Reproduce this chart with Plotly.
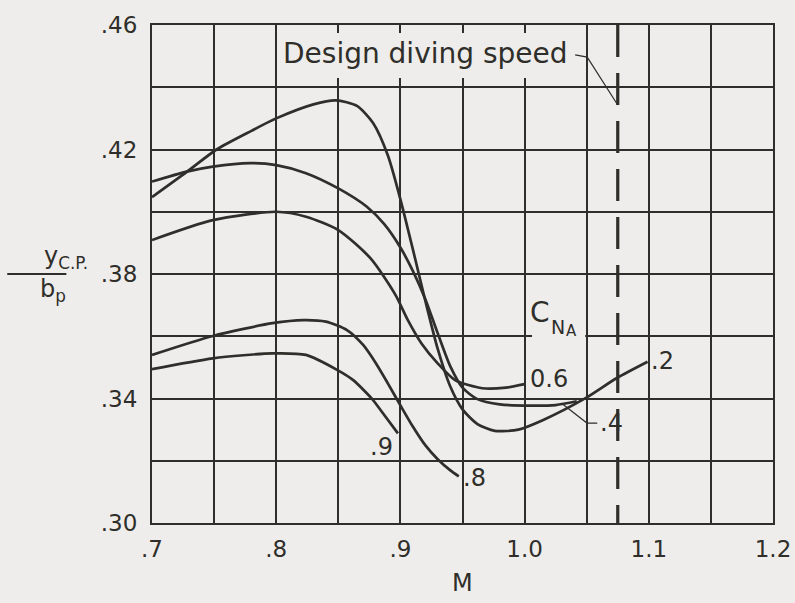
import plotly.graph_objects as go

# Lateral centre-of-pressure position vs Mach number for several C_NA values
M_02 = [0.700, 0.728, 0.752, 0.780, 0.800, 0.830, 0.848, 0.865, 0.878, 0.890, 0.900, 0.910,
        0.920, 0.930, 0.940, 0.950, 0.962, 0.976, 0.995, 1.015, 1.049, 1.074, 1.099]
Y_02 = [0.4047, 0.4128, 0.4200, 0.4260, 0.4300, 0.4345, 0.4358, 0.4340, 0.4285, 0.4180, 0.4040,
        0.3880, 0.3715, 0.3560, 0.3440, 0.3365, 0.3318, 0.3296, 0.3300, 0.3331, 0.3401, 0.3465,
        0.3518]

M_04 = [0.700, 0.728, 0.749, 0.779, 0.800, 0.824, 0.850, 0.873, 0.887, 0.900, 0.910,
        0.920, 0.930, 0.940, 0.950, 0.962, 0.980, 1.005, 1.025, 1.042]
Y_04 = [0.4097, 0.4129, 0.4145, 0.4156, 0.4150, 0.4124, 0.4075, 0.4016, 0.3960, 0.3885, 0.3810,
        0.3720, 0.3610, 0.3505, 0.3435, 0.3398, 0.3381, 0.3377, 0.3379, 0.3391]

M_06 = [0.700, 0.749, 0.800, 0.824, 0.850, 0.876, 0.896, 0.906, 0.917, 0.930, 0.944,
        0.966, 0.985, 1.000]
Y_06 = [0.3909, 0.3973, 0.4000, 0.3984, 0.3941, 0.3850, 0.3733, 0.3652, 0.3577, 0.3513, 0.3459,
        0.3433, 0.3435, 0.3446]

M_08 = [0.700, 0.749, 0.797, 0.822, 0.840, 0.857, 0.870, 0.880, 0.890, 0.900, 0.910, 0.920,
        0.930, 0.940, 0.947]
Y_08 = [0.3540, 0.3601, 0.3642, 0.3652, 0.3647, 0.3620, 0.3572, 0.3515, 0.3448, 0.3378, 0.3310,
        0.3250, 0.3205, 0.3170, 0.3150]

M_09 = [0.700, 0.749, 0.797, 0.824, 0.849, 0.862, 0.878, 0.884, 0.898]
Y_09 = [0.3494, 0.3529, 0.3545, 0.3540, 0.3492, 0.3459, 0.3395, 0.3363, 0.3288]

DIVE_M = 1.075  # design diving speed

X_TICKS = [0.7, 0.8, 0.9, 1.0, 1.1, 1.2]
X_TEXT = [".7", ".8", ".9", "1.0", "1.1", "1.2"]
Y_TICKS = [0.30, 0.34, 0.38, 0.42, 0.46]
Y_TEXT = [".30", ".34", ".38", ".42", ".46"]

INK = "#2f2e2a"
BG = "#eeedeb"
FONT = "DejaVu Sans"

fig = go.Figure()

for xs, ys in [(M_02, Y_02), (M_04, Y_04), (M_06, Y_06), (M_08, Y_08), (M_09, Y_09)]:
    fig.add_trace(go.Scatter(x=xs, y=ys, mode="lines",
                             line=dict(color=INK, width=2.7, shape="spline", smoothing=0.7),
                             hoverinfo="skip", showlegend=False))

fig.add_trace(go.Scatter(x=[DIVE_M, DIVE_M], y=[0.46, 0.30], mode="lines",
                         line=dict(color=INK, width=3.2, dash="32px,16px"),
                         hoverinfo="skip", showlegend=False))

shapes = [
    # clear the grid behind the captions
    dict(type="rect", xref="x", yref="y", x0=0.8012, x1=1.0448, y0=0.4430, y1=0.4574,
         layer="between", fillcolor=BG, line=dict(width=0)),
    dict(type="rect", xref="x", yref="y", x0=1.006, x1=1.0488, y0=0.3590, y1=0.3690,
         layer="between", fillcolor=BG, line=dict(width=0)),
    # leader lines
    dict(type="path", xref="x", yref="y",
         path=f"M 1.0407 0.4504 L 1.0504 0.4497 L {DIVE_M} 0.4343",
         line=dict(color=INK, width=1.2)),
    dict(type="path", xref="x", yref="y",
         path="M 1.030 0.3384 L 1.0502 0.3321 L 1.0585 0.3321",
         line=dict(color=INK, width=1.2)),
    # fraction bar of the y-axis label
    dict(type="line", xref="paper", yref="paper", x0=-0.2331, x1=-0.1379, y0=0.5, y1=0.5,
         line=dict(color=INK, width=1.8)),
]

def label(text, x, y, size=24, **kw):
    return dict(text=text, x=x, y=y, xref="x", yref="y", showarrow=False,
                font=dict(family=FONT, size=size, color=INK), **kw)

annotations = [
    label("Design diving speed", 0.9201, 0.4507, size=28),
    label(".9", 0.8848, 0.3243),
    label(".8", 0.9600, 0.3146),
    label("0.6", 1.0198, 0.3463),
    label(".4", 1.0698, 0.3321),
    label(".2", 1.1113, 0.3520),
    label("C", 1.0125, 0.3675, size=28),
    label("N", 1.0265, 0.3630, size=19),
    label("A", 1.0375, 0.3617, size=15),
    dict(text="y<sub>C.P.</sub>", x=-0.1775, y=0.534, xref="paper", yref="paper",
         showarrow=False, font=dict(family=FONT, size=24, color=INK)),
    dict(text="b<sub>p</sub>", x=-0.184, y=0.466, xref="paper", yref="paper",
         showarrow=False, font=dict(family=FONT, size=24, color=INK)),
    dict(text="M", x=0.5, y=0, xref="paper", yref="paper", yshift=-60, yanchor="middle",
         showarrow=False, font=dict(family=FONT, size=24, color=INK)),
]

def axis(rng, tickvals, ticktext, minor_tick0, minor_dtick, standoff):
    return dict(range=rng, tickmode="array", tickvals=tickvals, ticktext=ticktext,
                automargin=False,
                showgrid=True, gridcolor=INK, gridwidth=1.6, zeroline=False,
                showline=True, linecolor=INK, linewidth=2, mirror=True, ticks="",
                tickfont=dict(family=FONT, size=23, color=INK), ticklabelstandoff=standoff,
                minor=dict(tickmode="linear", tick0=minor_tick0, dtick=minor_dtick,
                           showgrid=True, gridcolor=INK, gridwidth=1.6, ticks=""))

fig.update_layout(
    width=795, height=603,
    margin=dict(l=152, r=22, t=25, b=80, autoexpand=False),
    paper_bgcolor=BG, plot_bgcolor=BG,
    xaxis=axis([0.7, 1.2], X_TICKS, X_TEXT, 0.7, 0.05, 4),
    yaxis=axis([0.30, 0.46], Y_TICKS, Y_TEXT, 0.30, 0.02, 8),
    shapes=shapes,
    annotations=annotations,
    showlegend=False,
)

fig.write_html("out.html")
